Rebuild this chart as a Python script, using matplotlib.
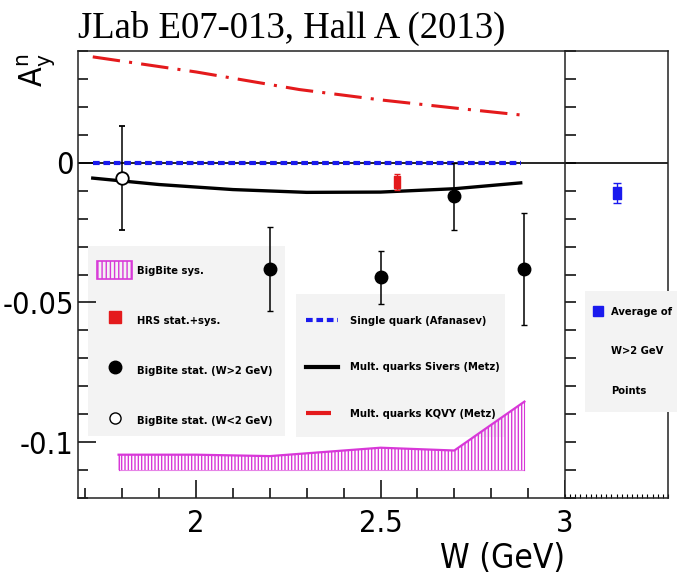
import numpy as np
import matplotlib.pyplot as plt
from matplotlib import font_manager as fm
from matplotlib.ticker import MultipleLocator
from matplotlib.lines import Line2D
from matplotlib.patches import Patch, Rectangle

# values
w_low = [1.80]
a_low = [-0.0055]
a_low_err = [0.0185]

w_high = [2.20, 2.50, 2.70, 2.89]
a_high = [-0.038, -0.041, -0.012, -0.038]
a_high_err = [0.015, 0.0095, 0.012, 0.020]

w_hrs = [2.545]
a_hrs = [-0.0068]
a_hrs_err = [0.0028]

avg_pos = [0.5]
a_avg = [-0.0108]
a_avg_err = [0.0035]

w_sivers = [1.72, 1.90, 2.10, 2.30, 2.50, 2.70, 2.88]
a_sivers = [-0.0055, -0.0078, -0.0096, -0.0106, -0.0105, -0.0093, -0.0072]

w_kqvy = [1.72, 2.00, 2.28, 2.50, 2.70, 2.88]
a_kqvy = [0.0379, 0.0325, 0.0262, 0.0225, 0.0196, 0.0171]

w_afan = [1.72, 2.88]
a_afan = [0.0, 0.0]

w_sys = [1.79, 2.00, 2.20, 2.35, 2.50, 2.60, 2.70, 2.89]
sys_top = [-0.1045, -0.1045, -0.105, -0.1035, -0.102, -0.1025, -0.103, -0.0855]
sys_bottom = -0.110

legend1_labels = ['BigBite sys.', 'HRS stat.+sys.', 'BigBite stat. (W>2 GeV)', 'BigBite stat. (W<2 GeV)']
legend2_labels = ['Single quark (Afanasev)', 'Mult. quarks Sivers (Metz)', 'Mult. quarks KQVY (Metz)']
legend3_labels = ['Average of', 'W>2 GeV', 'Points']


def narrow_font(bold):
    # look for a condensed sans face, else fall back to Liberation Sans
    target = 700 if bold else 400
    best = None
    for f in fm.fontManager.ttflist:
        name = f.name
        if 'Mono' in name or 'Serif' in name or f.style != 'normal':
            continue
        if not ('Narrow' in name or 'Condensed' in name or f.stretch in ('condensed', 'semi-condensed')):
            continue
        w = f.weight if isinstance(f.weight, int) else fm.weight_dict.get(f.weight, 400)
        score = abs(w - target)
        if best is None or score < best[0]:
            best = (score, f.fname)
    if best is not None and best[0] <= 100:
        return fm.FontProperties(fname=best[1]), True
    return fm.FontProperties(family='Liberation Sans', weight='bold' if bold else 'normal'), False


fp_reg, cond_reg = narrow_font(False)
fp_bold, cond_bold = narrow_font(True)
tick_size = 22 if cond_reg else 21
leg_size = 8.0

magenta = '#d838d8'
red = '#e41a1c'
blue = '#1a1aee'

W, H = 689, 583
fig = plt.figure(figsize=(W / 100, H / 100), dpi=100)
x0, x1, x2 = 78, 565, 668
y_top, y_bot = 51, 498
ax = fig.add_axes([x0 / W, 1 - y_bot / H, (x1 - x0) / W, (y_bot - y_top) / H])
axr = fig.add_axes([x1 / W, 1 - y_bot / H, (x2 - x1) / W, (y_bot - y_top) / H])

ylim = (-0.12, 0.04)
ax.set_xlim(1.68, 3.0)
ax.set_ylim(*ylim)
axr.set_xlim(0, 1)
axr.set_ylim(*ylim)

for a in (ax, axr):
    for s in a.spines.values():
        s.set_linewidth(1.1)
        s.set_color('#222222')
    a.axhline(0, color='black', lw=1.2, zorder=1)
ax.spines['right'].set_visible(False)

# systematic band
ax.fill_between(w_sys, sys_bottom, sys_top, facecolor='none', edgecolor=magenta,
                hatch='|||||', linewidth=0, zorder=2)
ax.plot(w_sys, sys_top, color=magenta, lw=1.6, zorder=2)
ax.plot([w_sys[0], w_sys[-1]], [sys_bottom, sys_bottom], color=magenta, lw=0.8, alpha=0.6, zorder=2)
ax.plot([w_sys[0], w_sys[0]], [sys_bottom, sys_top[0]], color=magenta, lw=0.8, zorder=2)
ax.plot([w_sys[-1], w_sys[-1]], [sys_bottom, sys_top[-1]], color=magenta, lw=0.8, zorder=2)

# theory curves
ax.plot(w_afan, a_afan, color=blue, lw=3, dashes=(1.6, 0.9), zorder=3)
ax.plot(w_sivers, a_sivers, color='black', lw=2.4, zorder=3)
ax.plot(w_kqvy, a_kqvy, color=red, lw=2.2, dashes=(9, 3, 1, 3), zorder=3)

# data points
rect = [(-0.6, -1), (0.6, -1), (0.6, 1), (-0.6, 1), (-0.6, -1)]
ax.errorbar(w_low, a_low, yerr=a_low_err, fmt='o', ms=9, mfc='white', mec='black', mew=1.3,
            ecolor='black', elinewidth=1.1, capsize=2.5, zorder=4)
ax.errorbar(w_high, a_high, yerr=a_high_err, fmt='o', ms=9, color='black',
            ecolor='black', elinewidth=1.1, capsize=2.5, zorder=4)
ax.errorbar(w_hrs, a_hrs, yerr=a_hrs_err, fmt='none', ecolor=red, elinewidth=1, capsize=2.5, zorder=4)
ax.plot(w_hrs, a_hrs, marker=rect, ms=8, color=red, ls='none', zorder=5)
axr.errorbar(avg_pos, a_avg, yerr=a_avg_err, fmt='none', ecolor=blue, elinewidth=1, capsize=3, zorder=4)
axr.plot(avg_pos, a_avg, marker=rect, ms=8.5, color=blue, ls='none', zorder=5)

# ticks
ax.set_xticks([2, 2.5, 3], labels=['2', '2.5', '3'])
ax.xaxis.set_minor_locator(MultipleLocator(0.1))
ax.set_yticks([-0.1, -0.05, 0], labels=['-0.1', '-0.05', '0'])
ax.yaxis.set_minor_locator(MultipleLocator(0.01))
ax.tick_params(which='major', direction='in', length=13, width=1.1, top=False, right=False)
ax.tick_params(which='minor', direction='in', length=7, width=1.1, top=False, right=False)
ax.tick_params(axis='x', pad=8)
ax.tick_params(axis='y', pad=3)
for lab in ax.get_xticklabels() + ax.get_yticklabels():
    lab.set_fontproperties(fp_reg)
    lab.set_fontsize(tick_size)

axr.yaxis.set_major_locator(MultipleLocator(0.01))
axr.xaxis.set_major_locator(MultipleLocator(0.05))
axr.tick_params(axis='y', direction='in', length=8, width=1.1, labelleft=False)
axr.tick_params(axis='x', direction='in', length=3, width=0.8, labelbottom=False)

ax.set_xlabel('W (GeV)', loc='right', fontproperties=fp_reg, fontsize=24, labelpad=3)
fig.text(36 / W, 1 - 54 / H, r'$\mathregular{A_y^n}$', rotation=90, ha='center', va='top',
         fontproperties=fp_reg, fontsize=23)
fig.text(x0 / W, 1 - 11 / H, 'JLab E07-013, Hall A (2013)', family='Liberation Serif',
         fontsize=26.5, va='top', ha='left')

# legend boxes (light grey, drawn behind the data)
tf = fig.transFigure


def grey_box(a, left, top, right, bottom, z):
    a.add_patch(Rectangle((left / W, 1 - bottom / H), (right - left) / W, (bottom - top) / H,
                          transform=tf, facecolor='#f3f3f3', edgecolor='none', zorder=z,
                          clip_on=False))


grey_box(ax, 88, 246, 285, 436, 0.4)
grey_box(ax, 296, 294, 505, 437, 0.4)
grey_box(axr, 585, 291, 677, 412, 2.8)

leg_font = fp_bold.copy()
leg_font.set_size(leg_size)
fs_px = leg_size * 100 / 72
common = dict(frameon=False, borderaxespad=0, borderpad=0, bbox_transform=tf,
              loc='upper left', prop=leg_font)

h1 = [Patch(facecolor='none', edgecolor=magenta, hatch='||||', lw=1.2),
      Line2D([], [], marker='s', color=red, ls='none', ms=8),
      Line2D([], [], marker='o', color='black', ls='none', ms=9),
      Line2D([], [], marker='o', mfc='white', mec='black', ls='none', ms=8)]
hh1 = 2.2
leg1 = ax.legend(h1, legend1_labels,
                 bbox_to_anchor=(97 / W, 1 - (273 - hh1 * fs_px / 2) / H),
                 handlelength=35 / fs_px, handleheight=hh1, handletextpad=5 / fs_px,
                 labelspacing=(56 - hh1 * fs_px) / fs_px, **common)
leg1.set_zorder(0.6)
ax.add_artist(leg1)

h2 = [Line2D([], [], color=blue, lw=3, dashes=(1.6, 0.9)),
      Line2D([], [], color='black', lw=3),
      Line2D([], [], color=red, lw=3, dashes=(6, 10))]
leg2 = ax.legend(h2, legend2_labels, bbox_to_anchor=(306 / W, 1 - 316 / H),
                 handlelength=32 / fs_px, handletextpad=12 / fs_px,
                 labelspacing=(50 - 13.5) / fs_px, **common)
leg2.set_zorder(0.6)

h3 = [Line2D([], [], marker='s', color=blue, ls='none', ms=7.5),
      Line2D([], [], ls='none'), Line2D([], [], ls='none')]
leg3 = axr.legend(h3, legend3_labels, bbox_to_anchor=(592 / W, 1 - 307 / H),
                  handlelength=11 / fs_px, handletextpad=8 / fs_px,
                  labelspacing=(43 - 13.5) / fs_px, **common)
leg3.set_zorder(5)

fig.savefig('out.png', dpi=100)
